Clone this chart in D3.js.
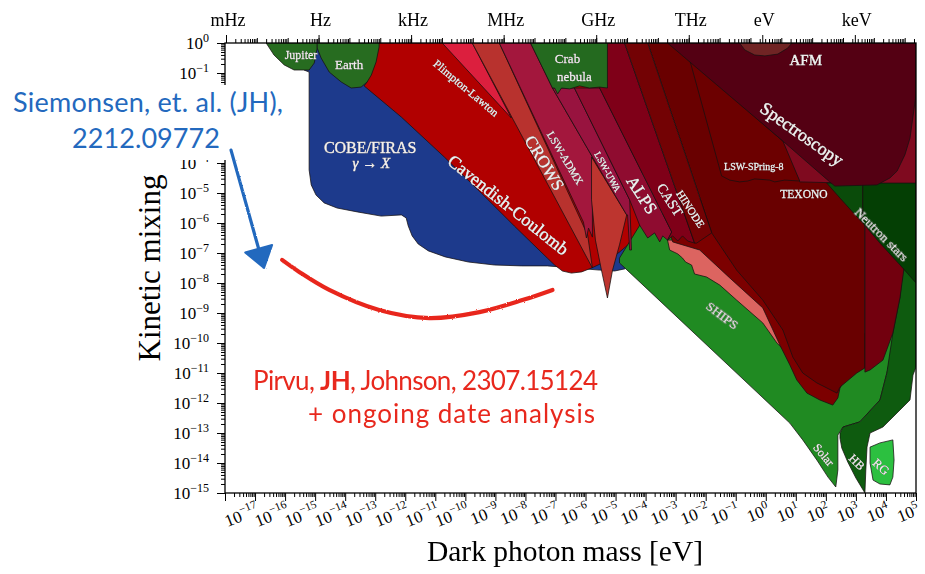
<!DOCTYPE html>
<html>
<head>
<meta charset="utf-8">
<script src="https://cdn.jsdelivr.net/npm/d3@7"></script>
<style>
  html, body { margin: 0; padding: 0; background: #fff; }
  svg { display: block; }
  .region-label { filter: drop-shadow(0.7px 0.7px 0.6px rgba(0,0,0,0.85)); }
</style>
</head>
<body>
<svg id="chart" width="925" height="574"></svg>
<script>
// Exclusion regions for the kinetically mixed dark photon.
// Every vertex is [log10(mass / eV), log10(kinetic mixing)].
const cobeFiras = [[-15.37,0],[-15.37,-0.9],[-15.2,-0.97],[-15.2,-4.23],[-15.13,-4.73],[-14.97,-5.07],[-14.7,-5.33],[-14.27,-5.5],[-13.6,-5.63],[-12.8,-5.77],[-12.13,-5.73],[-11.97,-5.83],[-11.9,-6.1],[-11.77,-6.43],[-11.57,-6.7],[-11.23,-6.93],[-10.67,-7.13],[-9.9,-7.3],[-9.03,-7.4],[-8.13,-7.43],[-7.27,-7.43],[-6.37,-7.5],[-5.53,-7.57],[-5.03,-7.6],[-4.7,-7.53],[-4.47,-7.3],[-4.03,-5.23],[-5.53,0]];
const cavendishCoulomb = [[-13.2,0],[-13.27,-1.3],[-13.37,-1.43],[-12.13,-2.47],[-10.7,-3.8],[-9.47,-5.0],[-8.37,-6.1],[-7.27,-7.17],[-7.03,-7.4],[-6.77,-7.6],[-6.47,-7.67],[-6.13,-7.63],[-5.8,-7.5],[-5.37,-7.3],[-4.87,-6.97],[-4.47,-6.63],[-4.2,-6.17],[-4.0,-5.57],[-4.2,-3.57],[-5.53,0]];
const plimptonLawton = [[-10.77,0],[-9.77,0],[-8.47,-2.5]];
const crows = [[-9.77,0],[-8.87,0],[-5.93,-6.4],[-5.77,-7.5]];
const lswAdmx = [[-8.87,0],[-7.83,0],[-7.1,-1.5],[-5.77,-3.8],[-5.77,-6.47],[-5.9,-6.17],[-5.97,-6.5],[-6.07,-5.97]];
const solar = [[-4.87,-7.17],[-4.13,-5.97],[-2.2,-5.23],[2.8,-10.57],[4.63,-7.3],[4.63,-8.57],[4.03,-11.0],[3.8,-11.9],[3.13,-12.63],[2.57,-12.8],[2.4,-13.07],[2.4,-14.23],[2.33,-14.8],[2.07,-14.47],[1.7,-13.9],[1.23,-13.23],[0.8,-12.67],[-4.87,-7.33]];
const horizontalBranch = [[2.47,-13.0],[2.57,-12.8],[3.13,-12.63],[3.8,-11.9],[4.03,-11.0],[4.23,-9.67],[4.47,-8.47],[4.57,-7.47],[4.63,-6.57],[5,-6.57],[5,-10.8],[4.9,-11.07],[4.8,-11.9],[4.37,-12.33],[3.9,-12.8],[3.47,-13.0],[3.37,-13.47],[3.33,-14.23],[3.3,-15.0],[3.0,-14.5],[2.73,-13.97],[2.53,-13.5],[2.47,-13.17]];
const redGiants = [[3.47,-13.47],[3.8,-13.33],[4.23,-13.23],[4.27,-13.9],[4.23,-14.47],[4.13,-14.73],[3.8,-14.7],[3.57,-14.57],[3.47,-14.0]];
const resonatorSpike = [[-5.8,-3.8],[-5.8,-5.23],[-5.67,-6.57],[-5.47,-7.57],[-5.27,-8.5],[-5.1,-7.57],[-4.87,-6.73],[-4.63,-5.73]];
const lswUwa = [[-7.1,-1.5],[-6.37,-1.5],[-4.53,-5.23],[-4.47,-6.9],[-4.53,-6.9],[-4.6,-5.73],[-4.63,-5.73],[-5.77,-3.8]];
const pinkBand = [[-3.27,-6.57],[-2.2,-6.57],[-0.87,-7.57],[0.8,-9.57],[0.87,-10.5],[0.37,-10.0],[-0.1,-9.33],[-0.97,-8.57],[-1.53,-8.07],[-1.97,-7.8],[-2.37,-7.7],[-2.47,-7.4],[-2.67,-7.3],[-2.77,-7.17],[-2.93,-7.03],[-3.2,-6.9]];
const darkBand = [[-3.53,-5.23],[-1.87,-5.23],[1.13,-8.57],[2.8,-10.9],[2.47,-11.5],[2.4,-11.83],[2.23,-12.07],[1.8,-11.9],[1.37,-11.67],[1.03,-11.23],[0.8,-10.73],[0.47,-10.07],[-0.1,-8.83],[-1.2,-7.83],[-2.2,-6.9],[-3.1,-6.63]];
const maroonBulk = [[-3.93,0],[5,0],[5,-4.73],[3.3,-4.73],[3.3,-10.83],[3.03,-11.0],[2.47,-11.47],[2.37,-11.67],[1.7,-11.33],[1.23,-11.0],[0.9,-10.47],[0.57,-9.57],[-0.1,-8.57],[-0.97,-7.57],[-1.8,-6.33]];
const rightBand = [[3.3,-4.73],[5,-4.73],[5,-7.3],[4.63,-7.3],[4.47,-8.47],[4.23,-9.67],[3.9,-10.57],[3.47,-10.9],[3.3,-10.97]];
const alps = [[-6.37,-1.5],[-5.53,-1.5],[-3.13,-6.3],[-3.27,-6.57],[-3.43,-6.43],[-3.53,-6.63],[-3.7,-6.33],[-3.93,-6.5],[-4.2,-6.07],[-4.53,-5.23]];
const cast = [[-5.53,-1.5],[-5.27,0],[-4.7,0],[-2.37,-6.67],[-2.6,-6.6],[-2.77,-6.43],[-2.93,-6.6],[-3.1,-6.43],[-3.27,-6.57],[-3.13,-6.3]];
const hinode = [[-4.7,0],[-3.93,0],[-1.8,-6.33],[-2.3,-6.67],[-2.37,-6.67]];
const underSpectroscopy = [[0.47,-3.07],[5,-1.23],[5,-4.73],[1.13,-4.63],[0.8,-3.9]];
const lswSpring8 = [[-2.53,-0.57],[0.57,-3.27],[1.13,-4.6],[0.63,-4.57],[0.3,-4.63],[0.13,-4.57],[-0.37,-4.53],[-0.6,-4.6],[-0.87,-4.63],[-1.2,-4.57],[-1.47,-4.43]];
const neutronStarsInner = [[2.03,-4.67],[3.23,-4.67],[3.23,-6.0],[3.13,-5.9],[2.47,-5.17]];
const neutronStarsOuter = [[3.23,-4.67],[5,-4.67],[5,-8.0],[4.47,-7.4],[3.8,-6.67],[3.23,-6.0]];
const spectroscopy = [[-3.27,0],[5,0],[5,-1.73],[4.8,-3.17],[4.63,-3.73],[4.37,-4.27],[4.13,-4.5],[3.7,-4.73],[2.3,-4.77],[2.13,-4.63],[0.57,-3.27]];
const afm = [[-0.87,0],[-0.7,-0.23],[-0.37,-0.4],[-0.03,-0.43],[0.4,-0.37],[0.73,-0.17],[0.87,0]];
const crabNebula = [[-7.83,0],[-5.27,0],[-5.27,-1.5],[-5.53,-1.47],[-5.87,-1.5],[-6.2,-1.43],[-6.53,-1.53],[-6.8,-1.5],[-6.93,-1.7],[-7.03,-1.5],[-7.1,-1.5]];
const jupiter = [[-16.63,0],[-16.37,-0.4],[-16.03,-0.73],[-15.7,-0.9],[-15.2,-0.9],[-15.03,-0.67],[-14.93,-0.17],[-14.93,0]];
const earth = [[-14.93,0],[-14.93,-0.17],[-14.8,-0.5],[-14.53,-0.97],[-14.13,-1.3],[-13.8,-1.5],[-13.47,-1.47],[-13.27,-1.3],[-13.13,-1.07],[-12.97,-0.63],[-12.87,-0.13],[-12.87,0]];

// Region names with anchor point [log10 m, log10 chi]
const regionLabels = [
  ["Jupiter", -15.47, -0.4],
  ["Earth", -13.87, -0.73],
  ["COBE/FIRAS", -13.17, -3.47],
  ["γ → X", -13.13, -4.0],
  ["Plimpton-Lawton", -9.97, -1.5],
  ["Cavendish-Coulomb", -8.57, -5.4],
  ["CROWS", -7.37, -4.0],
  ["LSW-ADMX", -6.67, -3.83],
  ["LSW-UWA", -5.27, -4.3],
  ["ALPS", -4.13, -5.07],
  ["CAST", -3.2, -5.23],
  ["HINODE", -2.5, -5.53],
  ["Crab", -6.6, -0.53],
  ["nebula", -6.37, -1.1],
  ["AFM", 1.33, -0.57],
  ["Spectroscopy", 1.2, -3.03],
  ["LSW-SPring-8", -0.4, -4.1],
  ["TEXONO", 1.27, -5.03],
  ["Neutron stars", 3.87, -6.37],
  ["SHIPS", -1.43, -9.07],
  ["Solar", 1.93, -13.73],
  ["HB", 3.03, -13.97],
  ["RG", 3.83, -14.13]
];

// Axis tick values
const massDecades = [-18,-17,-16,-15,-14,-13,-12,-11,-10,-9,-8,-7,-6,-5,-4,-3,-2,-1,0,1,2,3,4,5];
const massLabelDecades = [-17,-16,-15,-14,-13,-12,-11,-10,-9,-8,-7,-6,-5,-4,-3,-2,-1,0,1,2,3,4,5];
const mixingDecades = [0,-1,-2,-3,-4,-5,-6,-7,-8,-9,-10,-11,-12,-13,-14,-15];
const mixingLabelDecades = [0,-1,-4,-5,-6,-7,-8,-9,-10,-11,-12,-13,-14,-15];
const freqLabels = ["mHz","Hz","kHz","MHz","GHz","THz","eV","keV"];
const freqValuesHz = [1e-3, 1, 1e3, 1e6, 1e9, 1e12, 2.418e14, 2.418e17];

// Hand-drawn annotations, in the same [log10 m, log10 chi] units
const arrowTail = [-17.8, -3.57];
const arrowHead = [-16.7, -7.5];
const searchArc = [[-16.1,-7.23],[-15.53,-7.63],[-14.53,-8.23],[-12.87,-8.9],[-11.2,-9.17],[-9.53,-8.97],[-8.1,-8.57],[-7.1,-8.23]];

// ---------- drawing ----------
const serif = "'Liberation Serif', 'DejaVu Serif', serif";
const sans = "Lato, 'Open Sans', sans-serif";
const X0 = 225, X1 = 916, Y0 = 43, Y1 = 493;

const svg = d3.select("#chart");
const x = d3.scaleLog().domain([1e-18, 1e5]).range([X0, X1]);
const y = d3.scaleLog().domain([1e-15, 1]).range([Y1, Y0]);
const fx = d3.scaleLog().domain([1e-3, 1e12]).range([226, 688.75]);
const px = d => x(Math.pow(10, d[0]));
const py = d => y(Math.pow(10, d[1]));
const closed = d3.line().x(px).y(py).curve(d3.curveLinearClosed);

const defs = svg.append("defs");
defs.append("clipPath").attr("id", "plotClip")
  .append("rect").attr("x", X0).attr("y", Y0).attr("width", X1 - X0).attr("height", Y1 - Y0);
const rough = defs.append("filter").attr("id", "marker")
  .attr("x", "-10%").attr("y", "-10%").attr("width", "120%").attr("height", "120%");
rough.append("feTurbulence").attr("type", "fractalNoise").attr("baseFrequency", 0.8).attr("numOctaves", 2).attr("result", "n");
rough.append("feDisplacementMap").attr("in", "SourceGraphic").attr("in2", "n").attr("scale", 2.2);

// painting order, back to front
const layers = [
  [cobeFiras, "#1d3a8c"],
  [cavendishCoulomb, "#b10000"],
  [plimptonLawton, "#dc1f3e"],
  [crows, "#b8322e"],
  [lswAdmx, "#a3173d"],
  [solar, "#208a22"],
  [horizontalBranch, "#0e5b0f"],
  [redGiants, "#2cc040"],
  [resonatorSpike, "#bd352f"],
  [lswUwa, "#98133f"],
  [pinkBand, "#dc6460"],
  [darkBand, "#7c0000"],
  [maroonBulk, "#690000"],
  [rightBand, "#72000e"],
  [alps, "#8f0c30"],
  [cast, "#7f0018"],
  [hinode, "#730204"],
  [underSpectroscopy, "#7f0a1f"],
  [lswSpring8, "#6c0000"],
  [neutronStarsInner, "#0a4b0a"],
  [neutronStarsOuter, "#043f04"],
  [spectroscopy, "#540013"],
  [afm, "#702424"],
  [crabNebula, "#246a1f"],
  [jupiter, "#276c20"],
  [earth, "#276c20"]
];

const gRegions = svg.append("g").attr("clip-path", "url(#plotClip)");
gRegions.selectAll("path").data(layers).join("path")
  .attr("d", d => closed(d[0]))
  .attr("fill", d => d[1])
  .attr("stroke", "#151010")
  .attr("stroke-width", 0.75)
  .attr("stroke-linejoin", "round");

// region labels
const labelStyle = {
  "Jupiter": [12, 0], "Earth": [13, 0], "COBE/FIRAS": [16, 0], "γ → X": [15, 0],
  "Plimpton-Lawton": [11.5, 40], "Cavendish-Coulomb": [18, 38.5], "CROWS": [17, 59],
  "LSW-ADMX": [11, 59], "LSW-UWA": [9.5, 61], "ALPS": [17, 57], "CAST": [14, 57],
  "HINODE": [11, 57], "Crab": [13, 0], "nebula": [13, 0], "AFM": [15, 0],
  "Spectroscopy": [18, 35], "LSW-SPring-8": [10, 0], "TEXONO": [11.5, 0],
  "Neutron stars": [13, 45], "SHIPS": [13.5, 37], "Solar": [12, 50], "HB": [12, 45], "RG": [12.5, 42]
};
const gLabels = svg.append("g").attr("class", "region-label")
  .attr("font-family", serif).attr("fill", "#f4f1f1");
regionLabels.forEach(([name, lm, lc]) => {
  const [size, angle] = labelStyle[name];
  const t = gLabels.append("text")
    .attr("transform", `translate(${px([lm, lc])},${py([lm, lc])}) rotate(${angle})`)
    .attr("text-anchor", "middle")
    .attr("dominant-baseline", "central")
    .attr("font-size", size)
    .attr("stroke", "#f4f1f1")
    .attr("stroke-width", size >= 15 ? 0.45 : 0.3);
  if (name === "γ → X") {
    t.append("tspan").attr("font-style", "italic").text("γ");
    t.append("tspan").text(" → ");
    t.append("tspan").attr("font-style", "italic").text("X");
  } else {
    t.text(name);
  }
});

// ---------- axes ----------
const minorOf = (decades, maxV) => {
  const out = [];
  decades.forEach(k => { for (let m = 2; m <= 9; m++) { const v = m * Math.pow(10, k); if (v <= maxV) out.push(v); } });
  return out;
};
const tidy = g => g.call(a => a.select(".domain").remove()).selectAll("line").attr("stroke", "#000").attr("stroke-width", 1);

// bottom: mass
const massMajor = massDecades.map(k => Math.pow(10, k));
const massMinor = minorOf(massDecades.slice(0, -1), 1e5);
svg.append("g").attr("transform", `translate(0,${Y1})`)
  .call(d3.axisBottom(x).tickValues(massMinor).tickSize(4).tickFormat("")).call(tidy);
svg.append("g").attr("transform", `translate(0,${Y1})`)
  .call(d3.axisBottom(x).tickValues(massMajor).tickSize(8).tickFormat("")).call(tidy);

const sup = k => (k < 0 ? "\u2212" + Math.abs(k) : String(k));
const gx = svg.append("g").attr("font-family", serif).attr("fill", "#000");
massLabelDecades.forEach(k => {
  const t = gx.append("text")
    .attr("transform", `translate(${x(Math.pow(10, k)) + 5},${Y1 + 21}) rotate(-22)`)
    .attr("text-anchor", "end").attr("font-size", 17);
  t.append("tspan").text("10");
  t.append("tspan").attr("dy", -7.5).attr("font-size", 11.5).text(sup(k));
});

// left: mixing
const mixMajor = mixingDecades.map(k => Math.pow(10, k));
const mixMinor = minorOf(mixingDecades.slice(1), 1);
svg.append("g").attr("transform", `translate(${X0},0)`)
  .call(d3.axisLeft(y).tickValues(mixMinor).tickSize(4).tickFormat("")).call(tidy);
svg.append("g").attr("transform", `translate(${X0},0)`)
  .call(d3.axisLeft(y).tickValues(mixMajor).tickSize(8).tickFormat("")).call(tidy);
const gy = svg.append("g").attr("font-family", serif).attr("fill", "#000");
mixingLabelDecades.forEach(k => {
  const t = gy.append("text")
    .attr("x", 209).attr("y", y(Math.pow(10, k)) + 6)
    .attr("text-anchor", "end").attr("font-size", 17);
  t.append("tspan").text("10");
  t.append("tspan").attr("dy", -7.5).attr("font-size", 12).text(sup(k));
});

// top: frequency
const freqDecades = d3.range(-3, 20);
const freqMinor = minorOf(freqDecades, fx.invert(X1));
const freqMajor = freqDecades.map(k => Math.pow(10, k)).filter(v => fx(v) <= X1);
svg.append("g").attr("transform", `translate(0,${Y0})`)
  .call(d3.axisTop(fx).tickValues(freqMinor).tickSize(4).tickFormat("")).call(tidy);
svg.append("g").attr("transform", `translate(0,${Y0})`)
  .call(d3.axisTop(fx).tickValues(freqMajor).tickSize(5).tickFormat("")).call(tidy);
svg.append("g").attr("transform", `translate(0,${Y0})`)
  .call(d3.axisTop(fx).tickValues(freqValuesHz).tickSize(8).tickFormat("")).call(tidy);
svg.append("g").attr("font-family", serif).attr("font-size", 18).attr("text-anchor", "middle")
  .selectAll("text").data(freqLabels).join("text")
  .attr("x", (d, i) => fx(freqValuesHz[i]) + 2).attr("y", 26).text(d => d);

// frame
svg.append("rect").attr("x", X0).attr("y", Y0).attr("width", X1 - X0).attr("height", Y1 - Y0)
  .attr("fill", "none").attr("stroke", "#000").attr("stroke-width", 1.3);

// axis titles
svg.append("text").attr("x", 565).attr("y", 561).attr("text-anchor", "middle")
  .attr("font-family", serif).attr("font-size", 29.5).text("Dark photon mass [eV]");
svg.append("text").attr("transform", "translate(160,268) rotate(-90)").attr("text-anchor", "middle")
  .attr("font-family", serif).attr("font-size", 31).text("Kinetic mixing");

// ---------- annotations ----------
svg.append("rect").attr("x", 0).attr("y", 85).attr("width", 290).attr("height", 75).attr("fill", "#fff");
const blue = "#2369be", red = "#e8281d";
const gBlue = svg.append("g").attr("font-family", sans).attr("fill", blue).attr("text-anchor", "middle");
gBlue.append("text").attr("x", 148).attr("y", 112).attr("font-size", 27)
  .attr("textLength", 270).attr("lengthAdjust", "spacing").text("Siemonsen, et. al. (JH),");
gBlue.append("text").attr("x", 146).attr("y", 148).attr("font-size", 27)
  .attr("textLength", 148).attr("lengthAdjust", "spacing").text("2212.09772");

const tx = px(arrowTail), ty = py(arrowTail), hx = px(arrowHead), hy = py(arrowHead);
const len = Math.hypot(hx - tx, hy - ty), ux = (hx - tx) / len, uy = (hy - ty) / len;
const bx = hx - 20 * ux, by = hy - 20 * uy;
const gArrow = svg.append("g").attr("filter", "url(#marker)");
gArrow.append("line").attr("x1", tx).attr("y1", ty).attr("x2", bx).attr("y2", by)
  .attr("stroke", blue).attr("stroke-width", 3.2).attr("stroke-linecap", "round");
gArrow.append("path")
  .attr("d", `M${hx},${hy}L${bx - 14 * uy},${by + 14 * ux}L${bx + 14 * uy},${by - 14 * ux}Z`)
  .attr("fill", blue).attr("stroke", blue).attr("stroke-width", 2).attr("stroke-linejoin", "round");

svg.append("path")
  .attr("d", d3.line().x(px).y(py).curve(d3.curveCatmullRom)(searchArc))
  .attr("fill", "none").attr("stroke", red).attr("stroke-width", 4.2).attr("stroke-linecap", "round")
  .attr("filter", "url(#marker)");

const gRed = svg.append("g").attr("font-family", sans).attr("fill", red);
const line1 = gRed.append("text").attr("x", 253).attr("y", 390).attr("font-size", 26)
  .attr("textLength", 345).attr("lengthAdjust", "spacing");
line1.append("tspan").text("Pirvu, ");
line1.append("tspan").attr("font-weight", "bold").text("JH");
line1.append("tspan").text(", Johnson, 2307.15124");
gRed.append("text").attr("x", 308).attr("y", 423).attr("font-size", 26)
  .attr("textLength", 287).attr("lengthAdjust", "spacing").text("+ ongoing date analysis");
</script>
</body>
</html>
